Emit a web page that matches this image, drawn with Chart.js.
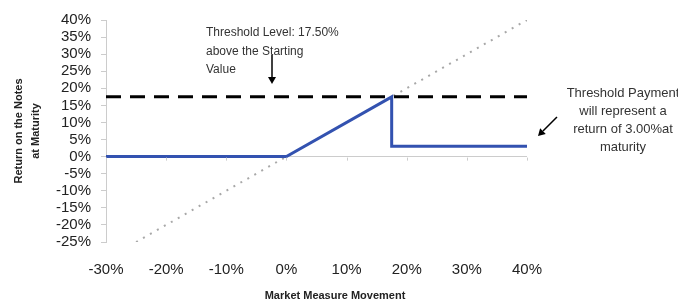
<!DOCTYPE html>
<html>
<head>
<meta charset="utf-8">
<script src="https://cdn.jsdelivr.net/npm/chart.js@4"></script>
<style>
  html, body { margin: 0; padding: 0; background: #fff; }
  #wrap { width: 678px; height: 304px; }
</style>
</head>
<body>
<div id="wrap"><canvas id="chart" width="678" height="304"></canvas></div>
<script>
// payoff of the notes
const payoffX = [-30, 0, 17.5, 17.5, 40];
const payoffY = [0, 0, 17.5, 3, 3];
// threshold level line
const thresholdX = [-30, 40];
const thresholdY = [17.5, 17.5];
// market measure (1:1) line
const marketX = [-25, 40];
const marketY = [-25, 40];

const xTicks = [-30, -20, -10, 0, 10, 20, 30, 40];
const yTicks = [-25, -20, -15, -10, -5, 0, 5, 10, 15, 20, 25, 30, 35, 40];

const noteLeft = ['Threshold Level: 17.50%', 'above the Starting', 'Value'];
const noteRight = ['Threshold Payment', 'will represent a', 'return of 3.00%at', 'maturity'];
const xTitle = 'Market Measure Movement';
const yTitle = ['Return on the Notes', 'at Maturity'];

function toPoints(xs, ys) {
    return xs.map((x, i) => ({ x: x, y: ys[i] }));
}

const FONT = '"Liberation Sans", Arial, sans-serif';

function arrow(ctx, x1, y1, x2, y2) {
    const ang = Math.atan2(y2 - y1, x2 - x1);
    const hl = 7, hw = 4;
    ctx.beginPath();
    ctx.moveTo(x1, y1);
    ctx.lineTo(x2 - Math.cos(ang) * hl, y2 - Math.sin(ang) * hl);
    ctx.stroke();
    ctx.beginPath();
    ctx.moveTo(x2, y2);
    ctx.lineTo(x2 - Math.cos(ang) * hl - Math.sin(ang) * hw, y2 - Math.sin(ang) * hl + Math.cos(ang) * hw);
    ctx.lineTo(x2 - Math.cos(ang) * hl + Math.sin(ang) * hw, y2 - Math.sin(ang) * hl - Math.cos(ang) * hw);
    ctx.closePath();
    ctx.fill();
}

const notes = {
    id: 'notes',
    afterDraw(chart) {
        const ctx = chart.ctx;
        const xs = chart.scales.x;
        const ys = chart.scales.y;
        ctx.save();

        // small tick marks on the zero line
        const y0 = ys.getPixelForValue(0);
        ctx.strokeStyle = '#cccccc';
        ctx.lineWidth = 1;
        for (const t of xTicks) {
            const px = Math.round(xs.getPixelForValue(t)) + 0.5;
            ctx.beginPath();
            ctx.moveTo(px, y0 + 1);
            ctx.lineTo(px, y0 + 4);
            ctx.stroke();
        }

        ctx.fillStyle = '#333';
        ctx.textBaseline = 'middle';
        ctx.font = '12px ' + FONT;
        ctx.textAlign = 'left';
        noteLeft.forEach((s, i) => ctx.fillText(s, 206, 33 + i * 18.5));

        ctx.font = '13px ' + FONT;
        ctx.textAlign = 'center';
        noteRight.forEach((s, i) => ctx.fillText(s, 623, 93 + i * 18));

        ctx.strokeStyle = '#000';
        ctx.fillStyle = '#000';
        ctx.lineWidth = 1.5;
        arrow(ctx, 272, 55, 272, 84);
        arrow(ctx, 557, 117, 538, 136);

        ctx.fillStyle = '#222';
        ctx.font = 'bold 11px ' + FONT;
        ctx.textAlign = 'center';
        ctx.fillText(xTitle, 335, 296);
        ctx.restore();
    }
};

const ctx = document.getElementById('chart').getContext('2d');

new Chart(ctx, {
    type: 'scatter',
    data: {
        datasets: [
            {
                label: 'Notes',
                data: toPoints(payoffX, payoffY),
                showLine: true,
                borderColor: '#3352b0',
                borderWidth: 3,
                pointRadius: 0
            },
            {
                label: 'Threshold',
                data: toPoints(thresholdX, thresholdY),
                showLine: true,
                borderColor: '#000000',
                borderWidth: 3,
                borderDash: [15, 9],
                pointRadius: 0
            },
            {
                label: 'Market',
                data: toPoints(marketX, marketY),
                showLine: true,
                borderColor: '#a8a8a8',
                borderWidth: 2,
                borderDash: [2, 6],
                pointRadius: 0
            }
        ]
    },
    options: {
        responsive: false,
        animation: false,
        layout: {
            padding: { left: 0, right: 151, top: 20, bottom: 0 }
        },
        scales: {
            x: {
                type: 'linear',
                min: -30,
                max: 40,
                afterBuildTicks: (scale) => {
                    scale.ticks = xTicks.map(v => ({ value: v }));
                },
                afterFit: (scale) => { scale.height = 62; },
                grid: { display: false },
                border: { display: false },
                ticks: {
                    autoSkip: false,
                    padding: 11,
                    color: '#222',
                    font: { family: FONT, size: 15 },
                    callback: (v) => v + '%'
                }
            },
            y: {
                min: -25,
                max: 40,
                afterBuildTicks: (scale) => {
                    scale.ticks = yTicks.map(v => ({ value: v }));
                },
                afterFit: (scale) => { scale.width = 106; },
                grid: {
                    color: (c) => c.tick && c.tick.value === 0 ? '#cccccc' : 'rgba(0,0,0,0)',
                    tickColor: '#cccccc',
                    tickLength: 5
                },
                border: { display: true, color: '#cccccc' },
                title: {
                    display: true,
                    text: yTitle,
                    color: '#222',
                    font: { family: FONT, size: 11, weight: 'bold', lineHeight: 1.6 },
                    padding: { top: 10, bottom: 0 }
                },
                ticks: {
                    autoSkip: false,
                    padding: 10,
                    color: '#222',
                    font: { family: FONT, size: 15, lineHeight: 1 },
                    callback: (v) => v + '%'
                }
            }
        },
        plugins: {
            legend: { display: false },
            tooltip: { enabled: false }
        }
    },
    plugins: [notes]
});
</script>
</body>
</html>
